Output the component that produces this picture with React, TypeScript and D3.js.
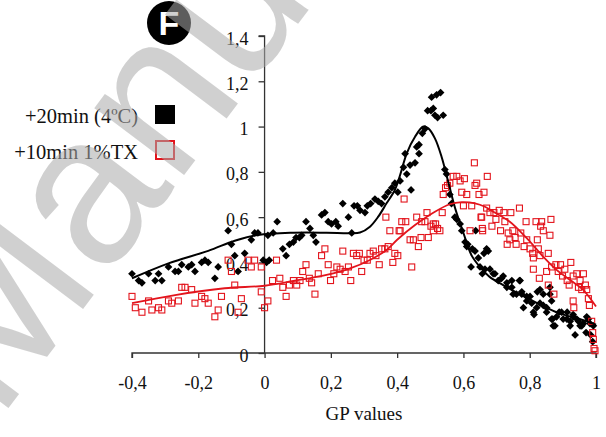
import React, { useEffect, useRef } from 'react';
import * as d3 from 'd3';

// +20min (4ºC) : black diamonds [GP, value]
const coldPoints: [number, number][] = [
  [-0.40, 0.35], [-0.38, 0.32], [-0.37, 0.31], [-0.35, 0.35], [-0.33, 0.32], [-0.32, 0.35], [-0.31, 0.32],
  [-0.29, 0.38], [-0.27, 0.36], [-0.26, 0.36], [-0.25, 0.39], [-0.23, 0.38], [-0.22, 0.39], [-0.21, 0.36],
  [-0.19, 0.40], [-0.18, 0.41], [-0.17, 0.40], [-0.15, 0.33], [-0.14, 0.38], [-0.11, 0.54], [-0.10, 0.48],
  [-0.09, 0.43], [-0.08, 0.36], [-0.06, 0.44], [-0.04, 0.50], [-0.03, 0.53], [-0.02, 0.53], [0.01, 0.52],
  [-0.004, 0.41], [0.006, 0.40], [0.014, 0.41], [0.038, 0.58], [0.026, 0.53], [0.055, 0.46], [0.065, 0.43],
  [0.075, 0.48], [0.087, 0.49], [0.095, 0.51], [0.105, 0.51], [0.112, 0.52], [0.125, 0.58], [0.137, 0.55],
  [0.147, 0.52], [0.155, 0.49], [0.172, 0.61], [0.182, 0.62], [0.192, 0.58], [0.202, 0.57], [0.215, 0.58],
  [0.222, 0.56], [0.236, 0.66], [0.253, 0.60], [0.263, 0.53], [0.270, 0.65], [0.280, 0.65], [0.288, 0.63],
  [0.303, 0.62], [0.310, 0.65], [0.320, 0.66], [0.333, 0.68], [0.343, 0.67], [0.353, 0.66], [0.363, 0.69],
  [0.373, 0.71], [0.384, 0.73], [0.393, 0.75], [0.402, 0.71], [0.409, 0.76], [0.419, 0.82], [0.424, 0.88],
  [0.429, 0.79], [0.439, 0.83], [0.442, 0.72], [0.454, 0.84], [0.459, 0.91], [0.466, 0.92], [0.466, 0.88],
  [0.476, 0.97], [0.484, 0.99], [0.492, 1.07], [0.502, 1.07], [0.509, 1.08], [0.514, 1.05], [0.522, 1.04],
  [0.539, 1.05], [0.504, 1.13], [0.519, 1.14], [0.531, 1.15], [0.544, 0.81], [0.549, 0.79], [0.559, 0.70],
  [0.564, 0.66], [0.574, 0.60], [0.580, 0.59], [0.590, 0.57], [0.595, 0.54], [0.605, 0.49], [0.613, 0.48],
  [0.623, 0.38], [0.627, 0.46], [0.635, 0.45], [0.637, 0.54], [0.645, 0.42], [0.657, 0.35], [0.662, 0.44],
  [0.670, 0.46], [0.680, 0.37], [0.695, 0.35], [0.705, 0.32], [0.720, 0.34], [0.731, 0.31], [0.746, 0.29],
  [0.750, 0.26], [0.769, 0.32], [0.776, 0.27], [0.781, 0.20], [0.791, 0.23], [0.801, 0.25], [0.813, 0.17],
  [0.823, 0.27], [0.831, 0.22], [0.841, 0.26], [0.851, 0.20], [0.861, 0.29], [0.866, 0.23], [0.869, 0.15],
  [0.876, 0.12], [0.889, 0.18], [0.901, 0.15], [0.913, 0.18], [0.922, 0.14], [0.931, 0.17], [0.942, 0.15],
  [0.952, 0.12], [0.962, 0.13], [0.970, 0.09], [0.977, 0.15], [0.984, 0.08], [0.990, 0.05], [0.610, 0.47],
  [0.675, 0.45], [0.650, 0.38], [0.665, 0.37], [0.690, 0.35], [0.715, 0.33], [0.731, 0.29], [0.746, 0.32],
  [0.760, 0.26], [0.776, 0.26], [0.791, 0.25], [0.806, 0.22], [0.811, 0.18], [0.821, 0.20], [0.841, 0.21],
  [0.851, 0.18], [0.866, 0.15], [0.881, 0.16], [0.896, 0.18], [0.912, 0.15], [0.922, 0.12], [0.931, 0.16],
  [0.947, 0.14], [0.957, 0.12], [0.972, 0.16], [0.992, 0.12], [0.871, 0.12], [0.937, 0.08], [0.982, 0.13],
  [0.831, 0.28], [0.861, 0.26], [0.771, 0.32],
];

// +10min 1%TX : red open squares
const tritonPoints: [number, number][] = [
  [-0.40, 0.25], [-0.39, 0.20], [-0.37, 0.18], [-0.35, 0.23], [-0.34, 0.19], [-0.32, 0.20], [-0.31, 0.19],
  [-0.29, 0.23], [-0.28, 0.22], [-0.26, 0.23], [-0.25, 0.29], [-0.24, 0.29], [-0.22, 0.28], [-0.21, 0.22],
  [-0.19, 0.25], [-0.18, 0.24], [-0.17, 0.22], [-0.15, 0.16], [-0.14, 0.19], [-0.13, 0.25], [-0.11, 0.41],
  [-0.10, 0.36], [-0.09, 0.30], [-0.08, 0.18], [-0.07, 0.24], [-0.05, 0.41], [-0.04, 0.38], [-0.03, 0.41],
  [-0.01, 0.38], [-0.01, 0.27], [0.01, 0.23], [0.00, 0.20], [0.024, 0.32], [0.046, 0.33], [0.036, 0.41],
  [0.055, 0.29], [0.065, 0.25], [0.075, 0.30], [0.087, 0.32], [0.097, 0.30], [0.107, 0.32], [0.115, 0.36],
  [0.125, 0.39], [0.135, 0.33], [0.142, 0.31], [0.152, 0.26], [0.162, 0.35], [0.172, 0.43], [0.182, 0.46],
  [0.192, 0.39], [0.199, 0.32], [0.209, 0.35], [0.218, 0.38], [0.228, 0.37], [0.236, 0.45], [0.243, 0.36],
  [0.253, 0.38], [0.260, 0.32], [0.268, 0.44], [0.278, 0.43], [0.286, 0.44], [0.293, 0.36], [0.300, 0.41],
  [0.310, 0.41], [0.318, 0.44], [0.328, 0.45], [0.336, 0.43], [0.346, 0.39], [0.353, 0.46], [0.363, 0.46],
  [0.373, 0.47], [0.366, 0.60], [0.378, 0.54], [0.387, 0.40], [0.393, 0.44], [0.406, 0.54], [0.421, 0.68],
  [0.414, 0.58], [0.426, 0.58], [0.409, 0.54], [0.439, 0.50], [0.449, 0.50], [0.464, 0.47], [0.459, 0.60],
  [0.472, 0.51], [0.474, 0.58], [0.484, 0.58], [0.490, 0.62], [0.494, 0.51], [0.502, 0.56], [0.509, 0.57],
  [0.516, 0.57], [0.522, 0.55], [0.509, 0.54], [0.529, 0.54], [0.536, 0.62], [0.539, 0.70], [0.546, 0.73],
  [0.552, 0.74], [0.559, 0.75], [0.569, 0.78], [0.580, 0.78], [0.590, 0.76], [0.603, 0.77], [0.633, 0.84],
  [0.595, 0.71], [0.610, 0.70], [0.635, 0.74], [0.640, 0.75], [0.647, 0.70], [0.444, 0.38], [0.402, 0.43],
  [0.600, 0.65], [0.625, 0.65], [0.620, 0.54], [0.653, 0.60], [0.657, 0.55], [0.672, 0.78], [0.662, 0.71],
  [0.655, 0.60], [0.658, 0.54], [0.670, 0.64], [0.680, 0.62], [0.692, 0.62], [0.698, 0.59], [0.708, 0.63],
  [0.722, 0.62], [0.725, 0.58], [0.743, 0.62], [0.686, 0.56], [0.712, 0.54], [0.735, 0.53], [0.740, 0.50],
  [0.749, 0.54], [0.732, 0.48], [0.756, 0.51], [0.759, 0.48], [0.769, 0.64], [0.773, 0.53], [0.783, 0.47],
  [0.789, 0.58], [0.791, 0.50], [0.801, 0.46], [0.809, 0.44], [0.811, 0.42], [0.819, 0.58], [0.823, 0.50],
  [0.833, 0.56], [0.836, 0.58], [0.841, 0.54], [0.826, 0.46], [0.811, 0.37], [0.831, 0.43], [0.829, 0.33],
  [0.856, 0.44], [0.861, 0.52], [0.864, 0.59], [0.851, 0.36], [0.856, 0.30], [0.866, 0.38], [0.873, 0.26],
  [0.879, 0.39], [0.886, 0.36], [0.893, 0.39], [0.899, 0.34], [0.906, 0.37], [0.913, 0.32], [0.919, 0.30],
  [0.924, 0.40], [0.931, 0.34], [0.942, 0.35], [0.947, 0.29], [0.952, 0.32], [0.957, 0.28], [0.962, 0.35],
  [0.968, 0.30], [0.972, 0.28], [0.977, 0.24], [0.931, 0.23], [0.933, 0.20], [0.980, 0.21], [0.987, 0.14],
  [0.990, 0.09], [0.992, 0.06], [0.994, 0.02], [0.997, 0.01],
];

// fitted trend lines
const coldTrend: [number, number][] = [
  [-0.40, 0.33], [-0.29, 0.396], [-0.17, 0.451], [-0.09, 0.496], [-0.02, 0.521], [0.087, 0.531],
  [0.187, 0.531], [0.258, 0.529], [0.288, 0.532], [0.318, 0.558], [0.343, 0.602], [0.368, 0.661],
  [0.393, 0.72], [0.409, 0.786], [0.429, 0.882], [0.454, 0.955], [0.479, 1.0], [0.494, 0.992],
  [0.514, 0.948], [0.534, 0.867], [0.554, 0.757], [0.575, 0.639], [0.60, 0.53], [0.625, 0.43],
  [0.65, 0.38], [0.68, 0.335], [0.72, 0.30], [0.77, 0.26], [0.83, 0.215], [0.89, 0.175], [0.95, 0.15],
  [1.0, 0.125],
];

const tritonTrend: [number, number][] = [
  [-0.40, 0.22], [-0.27, 0.256], [-0.12, 0.286], [0.0, 0.297], [0.087, 0.318], [0.187, 0.345],
  [0.258, 0.374], [0.318, 0.411], [0.368, 0.455], [0.40, 0.50], [0.454, 0.565], [0.514, 0.624],
  [0.559, 0.657], [0.595, 0.666], [0.635, 0.661], [0.665, 0.646], [0.690, 0.624], [0.740, 0.58],
  [0.791, 0.507], [0.841, 0.425], [0.881, 0.367], [0.922, 0.322], [0.962, 0.278], [1.0, 0.205],
];

const xTicks = [-0.4, -0.2, 0, 0.2, 0.4, 0.6, 0.8, 1];
const yTicks = [0, 0.2, 0.4, 0.6, 0.8, 1, 1.2, 1.4];
const legendLabels = ['+20min (4ºC)', '+10min 1%TX'];

const W = 606;
const H = 437;
const RED = '#e3141c';
const serif = '"Liberation Serif", "Times New Roman", serif';
const fmt = (d: number) => String(+d.toFixed(1)).replace('.', ',');

const App = () => {
  const svgRef = useRef<SVGSVGElement>(null);

  useEffect(() => {
    const svg = d3.select(svgRef.current);
    svg.selectAll('*').remove();

    const x = d3.scaleLinear().domain([-0.4, 1]).range([132, 596]);
    const y = d3.scaleLinear().domain([0, 1.4]).range([353, 36]);

    // axes
    const xAxis = svg.append('g')
      .attr('transform', `translate(0,${y(0)})`)
      .call(d3.axisBottom(x).tickValues(xTicks).tickFormat(fmt as any).tickSize(5).tickPadding(18));
    const yAxis = svg.append('g')
      .attr('transform', `translate(${x(0)},0)`)
      .call(d3.axisLeft(y).tickValues(yTicks).tickFormat(fmt as any).tickSize(6).tickPadding(10));

    [xAxis, yAxis].forEach(a => {
      a.select('.domain').attr('stroke', '#333').attr('stroke-width', 1.3);
      a.selectAll('.tick line').attr('stroke', '#333').attr('stroke-width', 1.3);
      a.selectAll('.tick text')
        .attr('fill', '#111')
        .style('font-family', serif)
        .style('font-size', '18px');
    });
    xAxis.select('.domain').attr('d', `M${x(-0.4)},5V0H${x(1)}V5`);
    yAxis.select('.domain').attr('d', `M-6,${y(1.4)}H0V${y(0)}`);
    yAxis.selectAll('.tick text').attr('dy', '0.45em');

    svg.append('text')
      .attr('x', 364).attr('y', 420)
      .attr('text-anchor', 'middle')
      .style('font-family', serif).style('font-size', '19px')
      .attr('fill', '#111')
      .text('GP values');

    // points
    const diamond = d3.symbol().type(d3.symbolSquare).size(30);
    svg.append('g').selectAll('path')
      .data(coldPoints)
      .enter().append('path')
      .attr('d', diamond)
      .attr('transform', d => `translate(${x(d[0])},${y(d[1])}) rotate(45)`)
      .attr('fill', '#000');

    svg.append('g').selectAll('rect')
      .data(tritonPoints)
      .enter().append('rect')
      .attr('x', d => x(d[0]) - 3)
      .attr('y', d => y(d[1]) - 3)
      .attr('width', 6).attr('height', 6)
      .attr('fill', 'none')
      .attr('stroke', RED)
      .attr('stroke-width', 1.1);

    const line = d3.line<[number, number]>()
      .x(d => x(d[0]))
      .y(d => y(d[1]))
      .curve(d3.curveCatmullRom.alpha(0.5));

    svg.append('path').datum(coldTrend)
      .attr('fill', 'none').attr('stroke', '#000').attr('stroke-width', 2)
      .attr('d', line);
    svg.append('path').datum(tritonTrend)
      .attr('fill', 'none').attr('stroke', RED).attr('stroke-width', 1.8)
      .attr('d', line);

    // legend
    const legend = svg.append('g');
    legendLabels.forEach((label, i) => {
      legend.append('text')
        .attr('x', 138).attr('y', 123 + i * 36)
        .attr('text-anchor', 'end')
        .style('font-family', serif).style('font-size', '20.5px')
        .attr('fill', '#111')
        .text(label);
    });
    legend.append('rect').attr('x', 155).attr('y', 105).attr('width', 20).attr('height', 19).attr('fill', '#000');
    legend.append('rect').attr('x', 156).attr('y', 141).attr('width', 18).attr('height', 18)
      .attr('fill', 'none').attr('stroke', RED).attr('stroke-width', 2);

    // panel badge
    svg.append('circle').attr('cx', 169).attr('cy', 23).attr('r', 22).attr('fill', '#000');
    svg.append('text')
      .attr('x', 169).attr('y', 35)
      .attr('text-anchor', 'middle')
      .style('font-family', '"Liberation Sans", Arial, sans-serif')
      .style('font-weight', 'bold').style('font-size', '34px')
      .attr('fill', '#fff')
      .text('F');

    // watermark, lies over the whole figure
    svg.append('text')
      .attr('transform', 'translate(-2,422) rotate(-53)')
      .style('font-family', '"Liberation Sans", Arial, sans-serif')
      .style('font-size', '212px')
      .attr('fill', 'rgb(170,170,170)')
      .attr('fill-opacity', 0.55)
      .text('Manuscript');
  }, []);

  return (
    <svg ref={svgRef} width={W} height={H}
      style={{ position: 'absolute', left: 0, top: 0, background: '#fff' }} />
  );
};

export default App;
